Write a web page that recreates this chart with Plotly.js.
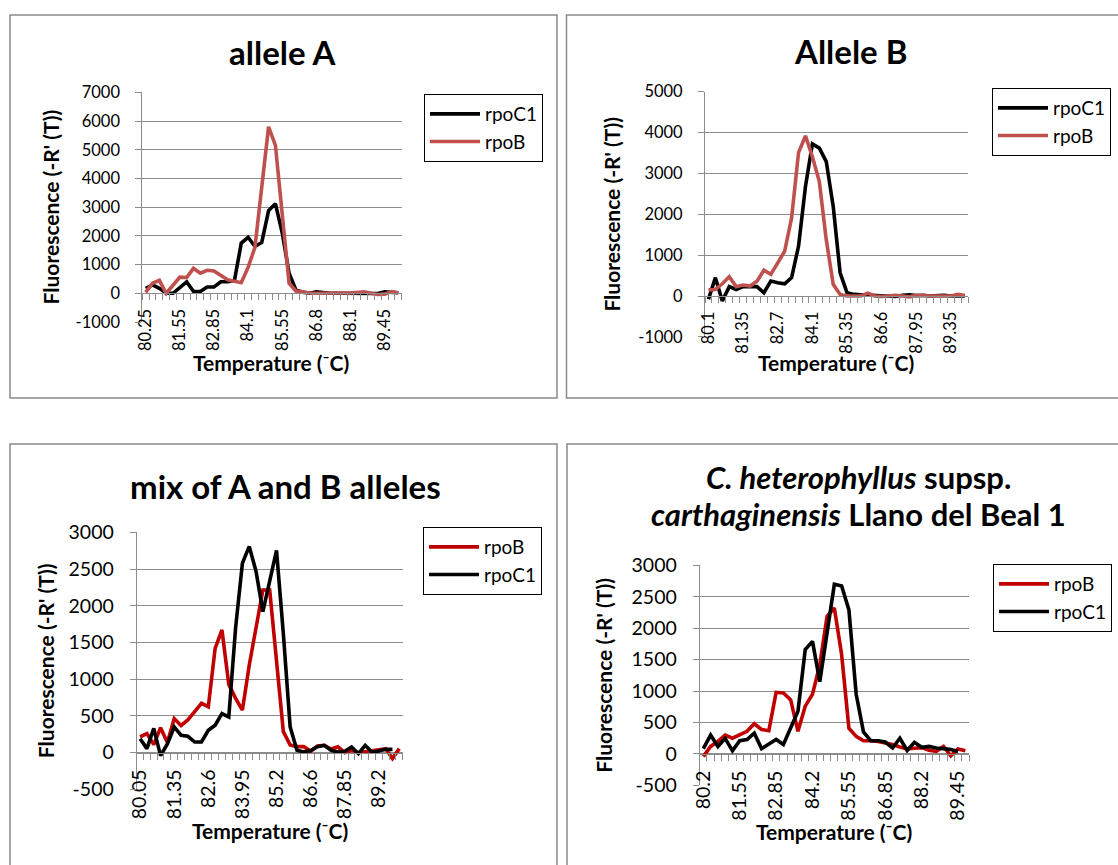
<!DOCTYPE html>
<html>
<head>
<meta charset="utf-8">
<script src="https://cdn.plot.ly/plotly-3.0.1.min.js"></script>
<style>html,body{margin:0;padding:0;background:#fff;}#chart{width:1118px;height:865px;}</style>
</head>
<body>
<div id="chart"></div>
<script>
// ---------- DATA (x = category index) ----------
// Panel A: allele A
const labelsA = ['80.25','81.55','82.85','84.1','85.55','86.8','88.1','89.45'];
const yTicksA = [-1000,0,1000,2000,3000,4000,5000,6000,7000];
const rpoC1_A = [170,290,170,0,0,200,400,60,60,220,220,400,400,450,1750,1950,1630,1770,2880,3120,2100,700,120,40,0,50,20,0,0,0,0,0,10,0,-10,50,50,20];
const rpoB_A  = [30,350,450,0,280,560,550,870,700,800,780,640,470,420,370,900,1600,3700,5800,5150,2600,350,80,30,10,0,10,0,0,10,10,20,50,0,-40,-30,60,10];
// Panel B: Allele B
const labelsB = ['80.1','81.35','82.7','84.1','85.35','86.6','87.95','89.35'];
const yTicksB = [-1000,0,1000,2000,3000,4000,5000];
const rpoC1_B = [-80,450,-120,230,160,230,230,230,80,365,325,300,450,1220,2680,3720,3620,3290,2200,570,80,40,30,20,0,0,0,-10,20,30,10,20,0,10,20,0,10,0];
const rpoB_B  = [150,160,300,470,230,270,245,365,630,530,810,1100,1910,3510,3920,3410,2800,1380,285,40,0,0,0,70,0,-10,0,20,0,-20,20,0,0,0,0,0,40,10];
// Panel C: mix of A and B alleles
const labelsC = ['80.05','81.35','82.6','83.95','85.2','86.6','87.85','89.2'];
const yTicksC = [-500,0,500,1000,1500,2000,2500,3000];
const rpoB_C  = [214,260,110,340,140,464,370,445,558,672,626,1420,1670,930,740,580,1190,1730,2214,2214,1200,286,104,82,82,20,91,100,50,80,0,32,0,10,32,40,55,-80,55];
const rpoC1_C = [190,55,330,-40,120,350,237,223,145,145,305,373,532,487,1700,2580,2808,2467,1920,2353,2754,1620,350,32,10,30,80,100,32,9,20,77,-14,100,9,23,45,45];
// Panel D: C. heterophyllus supsp. carthaginensis Llano del Beal 1
const labelsD = ['80.2','81.55','82.85','84.2','85.55','86.85','88.2','89.45'];
const yTicksD = [-500,0,500,1000,1500,2000,2500,3000];
const rpoB_D  = [-40,120,200,300,250,300,360,480,390,370,980,970,860,360,760,950,1420,2190,2320,1580,410,280,210,210,200,175,150,110,80,90,100,60,40,120,-30,80,50];
const rpoC1_D = [85,300,120,250,50,210,230,330,85,150,230,150,410,680,1660,1790,1150,1950,2700,2670,2290,950,350,210,210,190,95,250,55,185,105,120,95,85,70,40];

const LABEL_STEP = 5;
const X_TITLE = 'Temperature (⁻C)';
const Y_TITLE = "Fluorescence (-R' (T))";

// ---------- LAYOUT HELPERS ----------
const W = 1118, H = 865;
const fx = p => p / W;
const fy = p => 1 - p / H;
const FONT = 'Lato, "Open Sans", sans-serif';
const GRID = '#8c8c8c';
const RED1 = '#C0504D', RED2 = '#C00000', BLK = '#000000';
const AXT = 21, LEG = 19;

const idx = arr => arr.map((_, i) => i);

function line(name, vals, color, ax, leg) {
  return {
    type: 'scatter', mode: 'lines', name: name,
    x: idx(vals), y: vals,
    xaxis: 'x' + ax, yaxis: 'y' + ax, legend: leg,
    line: {color: color, width: 3.6, shape: 'linear'},
    hoverinfo: 'skip'
  };
}

const traces = [
  line('rpoC1', rpoC1_A, BLK, '', 'legend'),
  line('rpoB',  rpoB_A,  RED1, '', 'legend'),
  line('rpoC1', rpoC1_B, BLK, '2', 'legend2'),
  line('rpoB',  rpoB_B,  RED1, '2', 'legend2'),
  line('rpoB',  rpoB_C,  RED2, '3', 'legend3'),
  line('rpoC1', rpoC1_C, BLK, '3', 'legend3'),
  line('rpoB',  rpoB_D,  RED2, '4', 'legend4'),
  line('rpoC1', rpoC1_D, BLK, '4', 'legend4')
];

function xaxis(labels, nCat, left, right, zeroPx, tickSize) {
  return {
    domain: [fx(left), fx(right)],
    anchor: 'free', position: fy(zeroPx),
    range: [-0.5, nCat - 0.5],
    tickmode: 'array',
    tickvals: labels.map((_, k) => k * LABEL_STEP),
    ticktext: labels,
    tickangle: -90,
    ticks: 'outside', ticklen: 6, tickcolor: 'rgba(0,0,0,0)',
    ticklabelstandoff: 2,
    minor: {tickmode: 'linear', tick0: -0.5, dtick: 1, ticks: 'outside', ticklen: 6, tickcolor: GRID, tickwidth: 1, showgrid: false},
    showline: true, linecolor: GRID, linewidth: 1,
    showgrid: false, zeroline: false,
    tickfont: {family: FONT, size: tickSize, color: '#000'},
    fixedrange: true
  };
}
function yaxis(xa, ticks, top, bottom, tickSize, standoff) {
  return {
    domain: [fy(bottom), fy(top)],
    anchor: xa,
    range: [ticks[0], ticks[ticks.length - 1]],
    tickmode: 'array', tickvals: ticks, ticktext: ticks.map(String),
    showline: true, linecolor: GRID, linewidth: 1,
    ticks: 'outside', ticklen: 6, tickcolor: GRID,
    ticklabelstandoff: 12,
    showgrid: true, gridcolor: GRID, gridwidth: 1,
    zeroline: false,
    tickfont: {family: FONT, size: tickSize, color: '#000'},
    title: {text: '<b>' + Y_TITLE + '</b>', font: {family: FONT, size: AXT, color: '#000'}, standoff: standoff},
    fixedrange: true
  };
}
function legend(leftPx, topPx) {
  return {
    x: fx(leftPx), y: fy(topPx), xanchor: 'left', yanchor: 'top',
    bordercolor: '#000', borderwidth: 1, bgcolor: '#fff',
    font: {family: FONT, size: LEG, color: '#000'},
    itemwidth: 50, tracegroupgap: 0, traceorder: 'normal',
    itemclick: false, itemdoubleclick: false
  };
}
function box(x0, y0, x1, y1) {
  return {type: 'rect', xref: 'paper', yref: 'paper',
          x0: fx(x0), x1: fx(x1), y0: fy(y1), y1: fy(y0),
          line: {color: '#8a8a8a', width: 1.5}, fillcolor: 'rgba(0,0,0,0)', layer: 'below'};
}
function text(t, cx, cy, size) {
  return {text: t, xref: 'paper', yref: 'paper', x: fx(cx), y: fy(cy),
          xanchor: 'center', yanchor: 'middle', showarrow: false,
          font: {family: FONT, size: size, color: '#000'}};
}

const layout = {
  width: W, height: H,
  margin: {l: 0, r: 0, t: 0, b: 0},
  paper_bgcolor: '#fff', plot_bgcolor: 'rgba(0,0,0,0)',
  showlegend: true,
  xaxis:  xaxis(labelsA, rpoB_A.length, 142.3, 401.7, 293.3, 16.5),
  yaxis:  yaxis('x', yTicksA, 92.3, 322, 16.5, 10),
  xaxis2: xaxis(labelsB, rpoB_B.length, 705, 968.3, 296, 16.5),
  yaxis2: yaxis('x2', yTicksB, 91.7, 336.9, 16.5, 11),
  xaxis3: xaxis(labelsC, rpoB_C.length, 136.7, 402.7, 752.7, 19.5),
  yaxis3: yaxis('x3', yTicksC, 532.3, 789.4, 19.5, 8),
  xaxis4: xaxis(labelsD, rpoB_D.length, 699.7, 969, 754, 19.5),
  yaxis4: yaxis('x4', yTicksD, 565.3, 785.4, 19.5, 13),
  legend:  legend(424, 94),
  legend2: legend(992, 88),
  legend3: legend(423, 527),
  legend4: legend(993, 564),
  shapes: [
    box(10, 15, 557, 398),
    box(566.5, 15, 1130, 398),
    box(10, 444, 557, 880),
    box(567, 444, 1130, 880)
  ],
  annotations: [
    text('<b>allele A</b>', 283, 52, 33),
    text('<b>Allele B</b>', 850, 51, 33),
    text('<b>mix of A and B alleles</b>', 285, 486, 33),
    text('<b><i>C. heterophyllus</i> supsp.</b>', 858, 477, 31),
    text('<b><i>carthaginensis</i> Llano del Beal 1</b>', 858, 514, 31),
    text('<b>' + X_TITLE + '</b>', 271, 362, AXT),
    text('<b>' + X_TITLE + '</b>', 836, 363, AXT),
    text('<b>' + X_TITLE + '</b>', 270, 830, AXT),
    text('<b>' + X_TITLE + '</b>', 834, 831, AXT)
  ]
};

Plotly.newPlot('chart', traces, layout, {staticPlot: true, displayModeBar: false});
</script>
</body>
</html>
